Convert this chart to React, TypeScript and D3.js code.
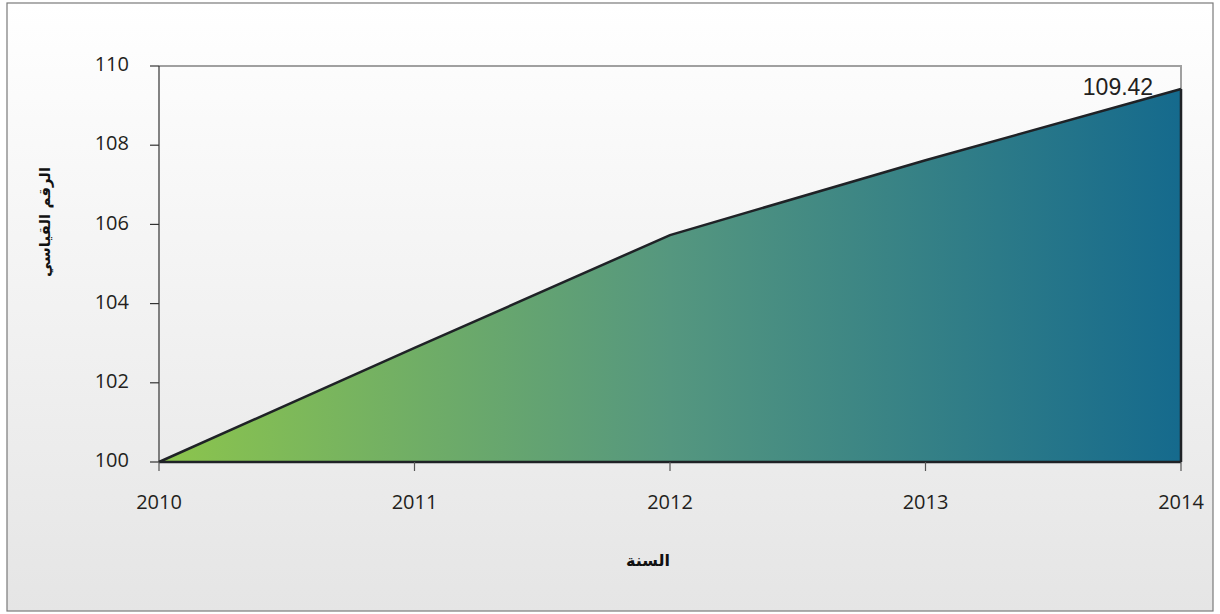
import React from "react";
import * as d3 from "d3";

const years = [2010, 2011, 2012, 2013, 2014];
const indexValues = [100, 102.88, 105.73, 107.62, 109.42];
const yTicks = [100, 102, 104, 106, 108, 110];
const lastLabel = "109.42";
const yTitle = "الرقم القياسي";
const xTitle = "السنة";

export default function App() {
  const W = 1220, H = 614;
  const left = 159, right = 1181, top = 66, bottom = 462;
  const x = d3.scaleLinear().domain([2010, 2014]).range([left, right]);
  const y = d3.scaleLinear().domain([100, 110]).range([bottom, top]);
  const pts = years.map((yr, i) => [yr, indexValues[i]] as [number, number]);
  const area = d3.area<[number, number]>().x(d => x(d[0])).y0(y(100)).y1(d => y(d[1]))(pts)!;
  const line = d3.line<[number, number]>().x(d => x(d[0])).y(d => y(d[1]))(pts)!;
  const tickFont = "'Open Sans', sans-serif";
  return (
    <svg width={W} height={H} style={{ position: "absolute", left: 0, top: 0 }}>
      <defs>
        <linearGradient id="bg" x1="0" y1="0" x2="0" y2="1">
          <stop offset="0" stopColor="#ffffff" />
          <stop offset="1" stopColor="#e5e5e5" />
        </linearGradient>
        <linearGradient id="fill" gradientUnits="userSpaceOnUse" x1={left} y1="0" x2={right} y2="0">
          <stop offset="0" stopColor="#8cc54c" />
          <stop offset="0.5" stopColor="#55977f" />
          <stop offset="1" stopColor="#156a8d" />
        </linearGradient>
      </defs>
      <rect x={7} y={3} width={1206} height={608} fill="url(#bg)" stroke="#7a7a7a" strokeWidth={1.2} />
      <path d={`M${left},${top}H${right}V${bottom}`} fill="none" stroke="#a0a0a0" strokeWidth={2} />
      <path d={area} fill="url(#fill)" />
      <path d={line} fill="none" stroke="#1f2226" strokeWidth={2.5} />
      <line x1={left} x2={right} y1={bottom} y2={bottom} stroke="#1f2226" strokeWidth={2.5} />
      <line x1={right} x2={right} y1={y(indexValues[4])} y2={bottom} stroke="#1f2226" strokeWidth={2.5} />
      <line x1={left} x2={left} y1={top} y2={bottom} stroke="#333" strokeWidth={1.2} />
      {yTicks.map(t => (
        <g key={t}>
          <line x1={left - 9} x2={left} y1={y(t)} y2={y(t)} stroke="#333" strokeWidth={1.2} />
          <text x={129} y={y(t) - 2} dy="0.36em" textAnchor="end" fontFamily={tickFont} fontSize={20} fill="#231f20">{t}</text>
        </g>
      ))}
      {years.map(yr => (
        <g key={yr}>
          <line x1={x(yr)} x2={x(yr)} y1={bottom} y2={bottom + 9} stroke="#555" strokeWidth={1.2} />
          <text x={x(yr)} y={502} dy="0.36em" textAnchor="middle" fontFamily={tickFont} fontSize={20} fill="#231f20">{yr}</text>
        </g>
      ))}
      <text x={1118} y={95} textAnchor="middle" fontFamily="'Liberation Sans', Arial, sans-serif" fontSize={23} fill="#231f20">{lastLabel}</text>
      <text transform={`translate(45,222) rotate(-90)`} textAnchor="middle" dy="0.35em" fontFamily="'DejaVu Sans', sans-serif" fontWeight="bold" fontSize={15} fill="#111">{yTitle}</text>
      <text x={648} y={560} textAnchor="middle" dy="0.35em" fontFamily="'DejaVu Sans', sans-serif" fontWeight="bold" fontSize={16} fill="#111">{xTitle}</text>
    </svg>
  );
}
